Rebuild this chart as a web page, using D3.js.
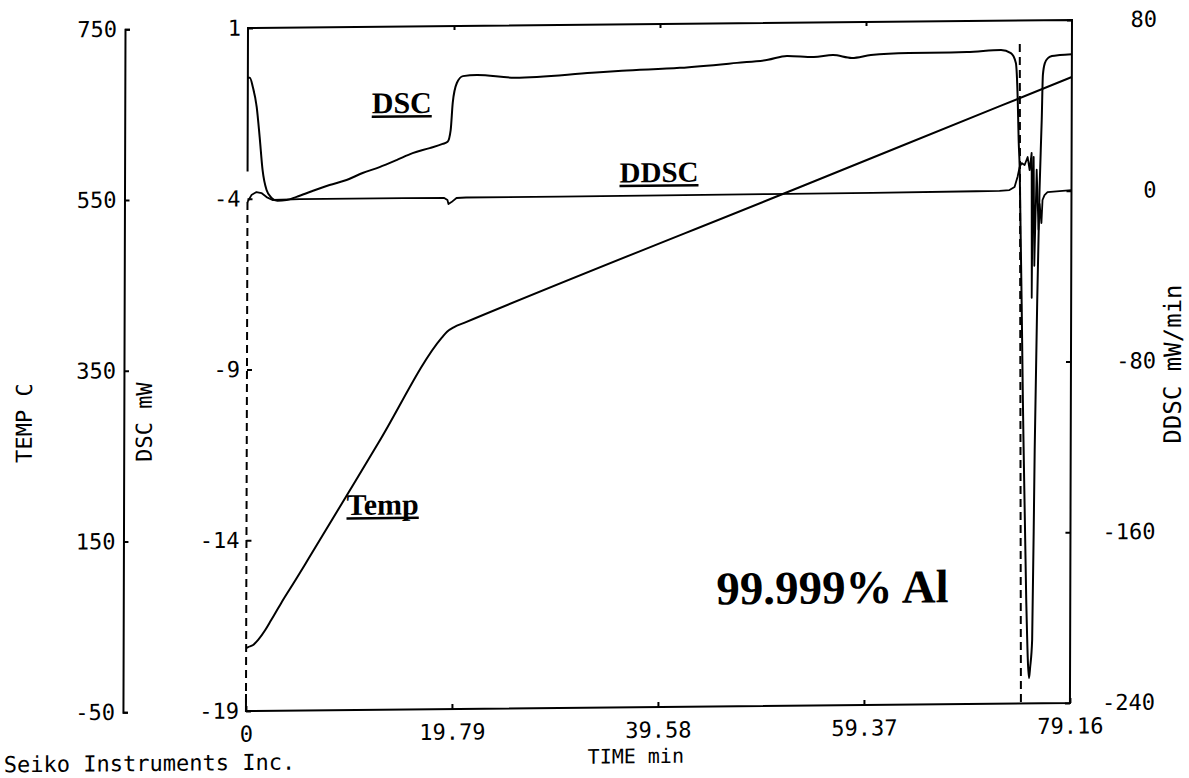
<!DOCTYPE html>
<html><head><meta charset="utf-8">
<script src="https://cdn.jsdelivr.net/npm/d3@7"></script>
<style>
html,body{margin:0;padding:0;background:#fff;}
svg{display:block;}
</style></head><body>
<svg id="chart" width="1189" height="778"></svg>
<script>
// ---------- data ----------
const timeTicks = [0, 19.79, 39.58, 59.37, 79.16];
const tempTicks = [750, 550, 350, 150, -50];
const dscTicks = [1, -4, -9, -14, -19];
const ddscTicks = [80, 0, -80, -160, -240];

// DSC (mW) vs time (min)
const dscTime = [0, 0.19, 0.48, 0.86, 1.15, 1.44, 1.83, 2.31, 2.88, 3.75, 4.71, 6.24, 7.88, 9.51, 11.05, 12.68, 14.31, 15.85, 17.49, 18.73, 19.21, 19.50, 19.69, 20.08, 20.66, 22.0,
  25.65, 33.05, 35.93, 41.5, 46.98, 49.96, 51.78, 54.37, 56.2, 58.03, 59.85, 63.5, 69.07, 72.34, 73.3, 73.78, 73.97, 74.07, 74.17,
  74.55, 74.93, 75.22, 75.32, 75.51, 75.70, 75.9, 76.09, 76.28, 76.38, 76.57, 76.86, 77.24, 78.01, 79.16];
const dscValue = [-0.46, -0.46, -0.73, -1.32, -2.19, -3.16, -3.75, -3.98, -4.07, -4.05, -3.96, -3.79, -3.62, -3.48, -3.28, -3.11, -2.91, -2.71, -2.57, -2.45, -2.39, -2.05, -1.25, -0.67, -0.47, -0.44,
  -0.53, -0.41, -0.36, -0.29, -0.16, -0.08, 0.03, -0.01, 0.04, -0.05, 0.03, 0.08, 0.09, 0.14, 0.05, -0.24, -1.33, -2.50, -3.23,
  -10.11, -15.97, -18.26, -17.96, -17.14, -11.58, -7.19, -3.97, -1.92, -0.60, -0.25, -0.11, -0.05, -0.02, 0.0];

// DDSC (mW/min) vs time (min)
const ddscTime = [0, 0.38, 0.86, 1.34, 1.83, 2.40, 5.0, 10.0, 15.0, 18.9, 19.21, 19.31, 19.6, 20.08, 21.0, 30, 40, 50, 60, 70, 72.25, 73.2, 73.69, 73.97, 74.17,
  74.36, 74.65, 74.94, 75.13, 75.32, 75.37, 75.42, 75.52, 75.61, 75.71, 75.81, 75.9, 76.0, 76.1, 76.28, 76.38, 76.57, 76.86, 79.16];
const ddscValue = [-1.5, 1.7, 3.1, 2.6, 0.7, -0.7, -0.4, -0.4, -0.4, -0.5, -1.5, -3.4, -2.5, -0.6, -0.4, -0.4, -0.3, -0.2, -0.1, 0.2, 0.3, 0.6, 2.0, 6.7, 11.3,
  13.2, 12.3, 16.0, 9.9, 17.9, -50, -10.3, 16.0, -35, -12.2, 10, -2.8, -18, -6, -15.0, -4.2, -1.9, -0.5, 0.3];

// Temperature (C) vs time (min)
const tempTime = [0, 0.19, 0.67, 1.15, 1.83, 2.40, 3.36, 4.71, 5.96, 12.68, 18.73, 19.21, 19.89, 20.85, 53.03, 72.25, 79.16];
const tempValue = [23.8, 24.9, 27.2, 33.1, 44.6, 56.3, 76.2, 102.5, 127.5, 263.2, 385.4, 392.0, 397.4, 402.2, 557.2, 649.9, 683.2];

// fast recorder sweeps of the DDSC pen (drawn dashed), mW/min
const sweepTime = [[0, 0], [74.15, 74.45]];
const sweepValue = [[-1.5, -236], [69, -240]];

// ---------- layout ----------
const W = 1189, H = 778;
const X0 = 248, X1 = 1072, YT = 28, YB = 711, TEMPX = 125;
const MONO = "'DejaVu Sans Mono', monospace";
const SERIF = "'Liberation Serif', 'Times New Roman', serif";

const svg = d3.select("#chart");
svg.append("rect").attr("width", W).attr("height", H).attr("fill", "#fff");
// slight skew of the scanned sheet
const g = svg.append("g").attr("transform", "matrix(1,-0.0097,-0.003,1,0.084,2.406)");

const x = d3.scaleLinear().domain([0, 79.16]).range([X0, X1]);
const yDsc = d3.scaleLinear().domain([-19, 1]).range([YB, YT]);
const yDdsc = d3.scaleLinear().domain([-240, 80]).range([YB, YT]);
const yTemp = d3.scaleLinear().domain([-50, 750]).range([YB, YT]);

function styleAxis(sel, size) {
  sel.attr("font-family", MONO).attr("font-size", size);
  sel.selectAll("path.domain").attr("stroke", "#000").attr("stroke-width", 2).attr("fill", "none");
  sel.selectAll(".tick line").attr("stroke", "#000").attr("stroke-width", 2);
  sel.selectAll(".tick text").attr("fill", "#000");
}
const fmt = d => String(d);

// TEMP axis
const aTemp = g.append("g").attr("transform", `translate(${TEMPX},0)`)
  .call(d3.axisLeft(yTemp).tickValues(tempTicks).tickSizeInner(-5).tickSizeOuter(-5).tickPadding(8).tickFormat(fmt));
styleAxis(aTemp, 22);

// DSC axis
const aDsc = g.append("g").attr("transform", `translate(${X0},0)`)
  .call(d3.axisLeft(yDsc).tickValues(dscTicks).tickSizeInner(-5).tickSizeOuter(0).tickPadding(7).tickFormat(fmt));
aDsc.select(".domain").remove();
styleAxis(aDsc, 22);

// DDSC axis
const aDdsc = g.append("g").attr("transform", `translate(${X1},0)`)
  .call(d3.axisRight(yDdsc).tickValues(ddscTicks).tickSizeInner(-5).tickSizeOuter(0).tickPadding(6).tickFormat(fmt));
aDdsc.select(".domain").remove();
styleAxis(aDdsc, 22);
aDdsc.selectAll(".tick text").attr("text-anchor", "end").attr("x", 85);

// time axis
const aTime = g.append("g").attr("transform", `translate(0,${YB})`)
  .call(d3.axisBottom(x).tickValues(timeTicks).tickSizeInner(-5).tickSizeOuter(0).tickPadding(15)
    .tickFormat(d => d === 0 ? "0" : d.toFixed(2)));
aTime.select(".domain").remove();
styleAxis(aTime, 22);

// top ticks
const aTop = g.append("g").attr("transform", `translate(0,${YT})`)
  .call(d3.axisTop(x).tickValues(timeTicks.slice(1, 4)).tickSizeInner(-4).tickSizeOuter(0).tickFormat(""));
aTop.select(".domain").remove();
styleAxis(aTop, 22);

// frame
const fp = d3.path();
fp.moveTo(X0, yDsc(-3.2));
fp.lineTo(X0, YT); fp.lineTo(X1, YT); fp.lineTo(X1, YB); fp.lineTo(X0, YB); fp.lineTo(X0, yDsc(-18.5));
g.append("path").attr("d", fp.toString()).attr("fill", "none").attr("stroke", "#000").attr("stroke-width", 2);

// curves
const lineGen = (ys, curve) => d3.line().x(d => x(d[0])).y(d => ys(d[1])).curve(curve);
g.append("path").datum(d3.zip(tempTime, tempValue))
  .attr("d", lineGen(yTemp, d3.curveMonotoneX))
  .attr("fill", "none").attr("stroke", "#000").attr("stroke-width", 2);
g.append("path").datum(d3.zip(dscTime, dscValue))
  .attr("d", lineGen(yDsc, d3.curveMonotoneX))
  .attr("fill", "none").attr("stroke", "#000").attr("stroke-width", 2);
g.append("path").datum(d3.zip(ddscTime, ddscValue))
  .attr("d", lineGen(yDdsc, d3.curveLinear))
  .attr("fill", "none").attr("stroke", "#000").attr("stroke-width", 1.8).attr("stroke-linejoin", "round");
sweepTime.forEach((ts, i) => {
  g.append("path").datum(d3.zip(ts, sweepValue[i]))
    .attr("d", lineGen(yDdsc, d3.curveLinear))
    .attr("fill", "none").attr("stroke", "#000").attr("stroke-width", 2)
    .attr("stroke-dasharray", "8,5");
});

// axis titles
g.append("text").attr("transform", "translate(33,421) rotate(-90)").attr("text-anchor", "middle")
  .attr("font-family", MONO).attr("font-size", 22).text("TEMP C");
g.append("text").attr("transform", "translate(153,421) rotate(-90)").attr("text-anchor", "middle")
  .attr("font-family", MONO).attr("font-size", 22).text("DSC mW");
g.append("text").attr("transform", "translate(1182,373) rotate(-90)").attr("text-anchor", "middle")
  .attr("font-family", MONO).attr("font-size", 24).text("DDSC mW/min");
g.append("text").attr("x", 638).attr("y", 767).attr("text-anchor", "middle")
  .attr("font-family", MONO).attr("font-size", 20).text("TIME min");
g.append("text").attr("x", 6).attr("y", 770)
  .attr("font-family", MONO).attr("font-size", 22).text("Seiko Instruments Inc.");

// series labels (underlined, bold serif)
function ulabel(txt, px, py, size) {
  const t = g.append("text").attr("x", px).attr("y", py)
    .attr("font-family", SERIF).attr("font-weight", "bold").attr("font-size", size).text(txt);
  const w = t.node().getComputedTextLength();
  g.append("line").attr("x1", px).attr("x2", px + w).attr("y1", py + 3.5).attr("y2", py + 3.5)
    .attr("stroke", "#000").attr("stroke-width", 2.5);
}
ulabel("DSC", 372, 114.5, 30);
ulabel("DDSC", 620, 186, 29);
ulabel("Temp", 348, 516, 30);

g.append("text").attr("x", 718).attr("y", 609)
  .attr("font-family", SERIF).attr("font-weight", "bold").attr("font-size", 47).text("99.999% Al");
</script>
</body></html>
